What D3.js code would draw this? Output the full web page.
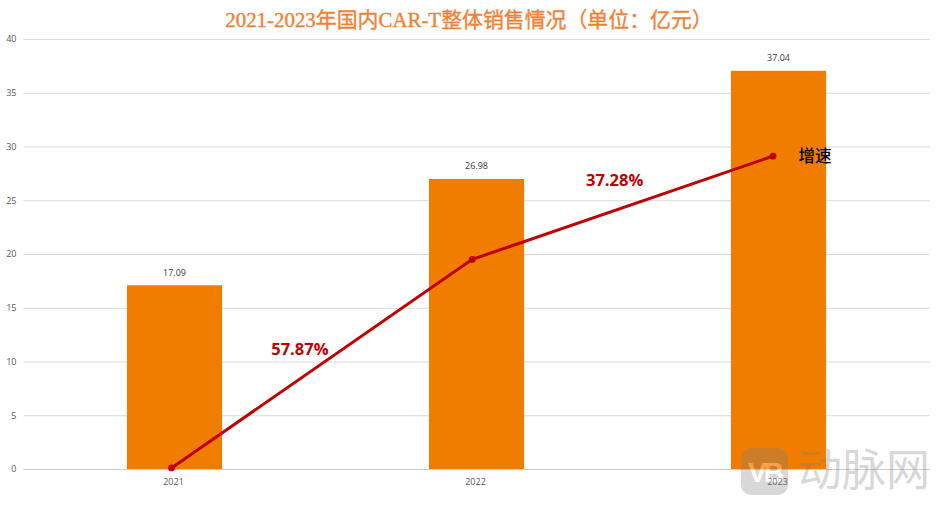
<!DOCTYPE html>
<html>
<head>
<meta charset="utf-8">
<script src="https://cdn.jsdelivr.net/npm/d3@7"></script>
<style>
  html, body { margin: 0; padding: 0; background: #fff; }
  text { font-family: "Noto Sans CJK SC", "Open Sans", sans-serif; }
</style>
</head>
<body>
<svg id="viz"></svg>
<script>
const WIDTH = 939
const HEIGHT = 505

const years = [2021, 2022, 2023]
const sales = [17.09, 26.98, 37.04]
const salesLabels = ['17.09', '26.98', '37.04']
const lineValues = [0.1, 19.5, 29.1]
const growthLabels = ['57.87%', '37.28%']
const yTicks = [0, 5, 10, 15, 20, 25, 30, 35, 40]

const TITLE = '2021-2023年国内CAR-T整体销售情况（单位：亿元）'
const LINE_NAME = '增速'
const WATERMARK = '动脉网'

const COLOR_BAR = '#F07C00'
const COLOR_LINE = '#C00000'
const COLOR_GRID = '#D9D9D9'
const COLOR_TEXT = '#595959'

const svg = d3.select('#viz').attr('width', WIDTH).attr('height', HEIGHT)
  .style('display', 'block')

const x = d3.scaleBand().domain(years).range([23.5, 929.5]).paddingInner(0.685).paddingOuter(0.3425)
const y = d3.scaleLinear().domain([0, 40]).range([469, 39])

// the line in the original sits a little left of the bar centres
const lineX = d3.scaleLinear().domain([2021, 2023])
  .range([x(2021) + x.bandwidth() / 2 - 3, x(2023) + x.bandwidth() / 2 - 5.5])

// grid
const yAxis = d3.axisLeft(y).tickValues(yTicks).tickSize(-(929.5 - 23.5)).tickPadding(6)
const yG = svg.append('g').attr('transform', 'translate(23.5,0)').call(yAxis)
yG.select('.domain').remove()
yG.selectAll('line').attr('stroke', COLOR_GRID).attr('stroke-width', 1)
yG.selectAll('text').attr('fill', COLOR_TEXT).style('font-size', '9px')
  .style('font-family', '"Open Sans", sans-serif').attr('x', -7)

// bars
svg.selectAll('rect.bar')
  .data(sales)
  .enter().append('rect')
    .attr('class', 'bar')
    .attr('x', (d, i) => x(years[i]))
    .attr('y', d => y(d))
    .attr('width', x.bandwidth())
    .attr('height', d => y(0) - y(d))
    .attr('fill', COLOR_BAR)

svg.selectAll('text.value')
  .data(sales)
  .enter().append('text')
    .attr('class', 'value')
    .attr('x', (d, i) => x(years[i]) + x.bandwidth() / 2)
    .attr('y', d => y(d) - 9.5)
    .attr('text-anchor', 'middle')
    .attr('fill', '#404040')
    .style('font-family', '"Open Sans", sans-serif')
    .style('font-size', '9px')
    .text((d, i) => salesLabels[i])

// x axis
const xAxis = d3.axisBottom(x).tickSize(0).tickPadding(10)
const xG = svg.append('g').attr('transform', `translate(0,${y(0)})`).call(xAxis)
xG.select('.domain').attr('stroke', '#CCCCCC').attr('stroke-width', 1)
xG.selectAll('text').attr('fill', COLOR_TEXT).style('font-size', '9px')
  .style('font-family', '"Open Sans", sans-serif').attr('dx', -1)

// growth line
const line = d3.line().x((d, i) => lineX(years[i])).y(d => y(d))
svg.append('path')
  .datum(lineValues)
  .attr('d', line)
  .attr('fill', 'none')
  .attr('stroke', COLOR_LINE)
  .attr('stroke-width', 3)

svg.selectAll('circle.pt')
  .data(lineValues)
  .enter().append('circle')
    .attr('class', 'pt')
    .attr('cx', (d, i) => lineX(years[i]))
    .attr('cy', d => y(d))
    .attr('r', 3.4)
    .attr('fill', COLOR_LINE)

// growth labels are placed relative to the segment midpoints
const growthOffsets = [[-22, 0], [-8, -13]]
svg.selectAll('text.growth')
  .data(growthLabels)
  .enter().append('text')
    .attr('class', 'growth')
    .attr('x', (d, i) => (lineX(years[i]) + lineX(years[i + 1])) / 2 + growthOffsets[i][0])
    .attr('y', (d, i) => (y(lineValues[i]) + y(lineValues[i + 1])) / 2 + growthOffsets[i][1] - 9)
    .attr('text-anchor', 'middle')
    .attr('fill', COLOR_LINE)
    .style('font-family', '"Open Sans", sans-serif')
    .style('font-weight', 700)
    .style('font-size', '16.5px')
    .text(d => d)

svg.append('text')
  .attr('x', lineX(2023) + 25.5)
  .attr('y', y(lineValues[2]) + 6)
  .attr('fill', '#000')
  .style('font-size', '16.5px')
  .style('font-weight', 500)
  .text(LINE_NAME)

// title
svg.append('text')
  .attr('x', 469)
  .attr('y', 27)
  .attr('text-anchor', 'middle')
  .attr('fill', '#F37F33')
  .attr('stroke', '#F37F33')
  .attr('stroke-width', 0.35)
  .style('font-family', '"Liberation Serif", "Noto Sans CJK SC", serif')
  .style('font-size', '20.9px')
  .text(TITLE)

// watermark
const wm = svg.append('g').attr('opacity', 0.3)
wm.append('rect')
  .attr('x', 741).attr('y', 448).attr('width', 47).attr('height', 47).attr('rx', 10)
  .attr('fill', '#808080')
wm.append('text')
  .attr('x', 764.5).attr('y', 482)
  .attr('text-anchor', 'middle')
  .attr('fill', '#fff')
  .style('font-family', '"Liberation Sans", sans-serif')
  .style('font-weight', 700)
  .style('font-size', '28px')
  .style('letter-spacing', '-3px')
  .text('VB')
wm.append('text')
  .attr('x', 798).attr('y', 486)
  .attr('fill', '#808080')
  .style('font-weight', 400)
  .style('font-size', '44px')
  .text(WATERMARK)
</script>
</body>
</html>
